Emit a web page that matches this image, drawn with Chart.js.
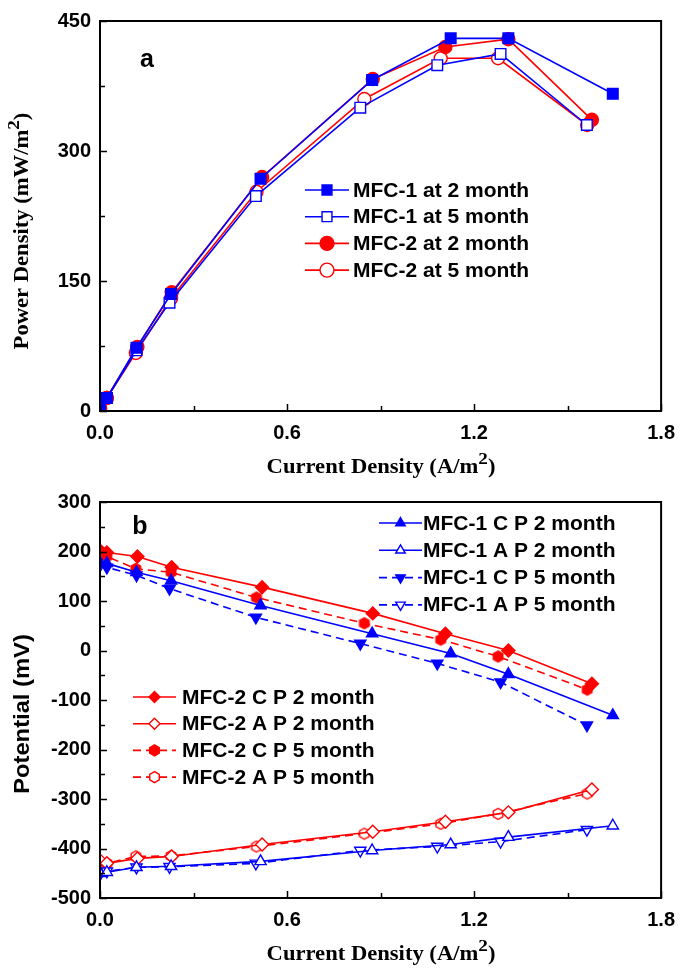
<!DOCTYPE html>
<html>
<head>
<meta charset="utf-8">
<script src="https://cdn.jsdelivr.net/npm/chart.js@4/dist/chart.umd.min.js"></script>
<style>
  body { margin: 0; background: #fff; width: 685px; height: 976px; overflow: hidden; }
  canvas { position: absolute; left: 0; }
  #top { top: 0; }
  #bot { top: 478px; }
</style>
</head>
<body>
<canvas id="top" width="685" height="478"></canvas>
<canvas id="bot" width="685" height="498"></canvas>
<script>
// current density (A/m2), one list per cell and ageing time
const cur1_2m = [0, 0.022, 0.117, 0.228, 0.515, 0.873, 1.125, 1.31, 1.645];
const cur1_5m = [0, 0.022, 0.117, 0.223, 0.5, 0.835, 1.082, 1.285, 1.562];
const cur2_2m = [0, 0.022, 0.12, 0.23, 0.52, 0.875, 1.108, 1.31, 1.578];
const cur2_5m = [0, 0.022, 0.115, 0.228, 0.502, 0.848, 1.093, 1.277, 1.563];

// panel a: power density (mW/m2)
const pd1_2m = [2, 15, 73, 135, 268, 382, 430, 430, 366];
const pd1_5m = [2, 15, 70, 125, 248, 350, 399, 412, 330];
const pd2_2m = [3, 15, 74, 137, 270, 383, 420, 429, 336];
const pd2_5m = [2, 15, 67, 130, 253, 360, 407, 407, 330];

// panel b: cathode (C P) and anode (A P) potential (mV)
const c1cp_2m = [178, 176, 158, 141, 91, 34, -6, -48, -131];
const c1ap_2m = [-450, -448, -438, -436, -426, -404, -392, -377, -354];
const c1cp_5m = [172, 168, 152, 125, 67, 14, -26, -64, -151];
const c1ap_5m = [-452, -446, -438, -437, -430, -404, -396, -386, -362];
const c2cp_2m = [202, 198, 190, 168, 128, 75, 34, 0, -67];
const c2ap_2m = [-424, -430, -420, -416, -392, -366, -346, -327, -281];
const c2cp_5m = [200, 190, 165, 158, 107, 55, 22, -12, -79];
const c2ap_5m = [-428, -430, -416, -415, -396, -370, -350, -330, -289];

const xTicks = { min: 0, max: 1.8, step: 0.3 };
const yTicksA = { min: 0, max: 450, step: 75 };
const yTicksB = { min: -500, max: 300, step: 50 };

const BLUE = "#0000ff";
const RED = "#ff0000";
const SANS = "'Liberation Sans', Arial, sans-serif";
const SERIF = "'Liberation Serif', 'Times New Roman', serif";
const TICKFONT = { family: SANS, weight: "bold", size: 20 };

function pts(xs, ys) {
  return xs.map((x, i) => ({ x: x, y: ys[i] }));
}

function hexPath(g, x, y, r) {
  g.beginPath();
  for (let k = 0; k < 6; k++) {
    const a = Math.PI / 2 + k * Math.PI / 3;
    g.lineTo(x + r * Math.cos(a), y - r * Math.sin(a));
  }
  g.closePath();
}

function hexImage(r, filled, color) {
  const c = document.createElement("canvas");
  c.width = c.height = Math.ceil(2 * r + 3);
  const g = c.getContext("2d");
  hexPath(g, c.width / 2, c.height / 2, r);
  g.fillStyle = filled ? color : "#fff";
  g.fill();
  g.lineWidth = 1.4;
  g.strokeStyle = color;
  g.stroke();
  return c;
}

const hexFilled = hexImage(5.5, true, RED);
const hexOpen = hexImage(5.5, false, RED);

function series(label, data, color, marker, filled, dashed, r) {
  const ds = {
    label, data,
    borderColor: color,
    borderWidth: 1.6,
    borderDash: dashed ? [8, 5] : [],
    pointBorderColor: color,
    pointBackgroundColor: filled ? color : "#fff",
    pointBorderWidth: 1.4,
    pointRadius: r,
    pointHoverRadius: r,
    pointRotation: 0,
    marker, filled,
    tension: 0
  };
  if (marker === "hex") ds.pointStyle = filled ? hexFilled : hexOpen;
  else if (marker === "triangleDown") { ds.pointStyle = "triangle"; ds.pointRotation = 180; }
  else ds.pointStyle = marker;
  return ds;
}

// marker for the hand drawn legends
function drawMarker(g, ds, x, y, r) {
  g.save();
  g.setLineDash([]);
  g.lineWidth = 1.4;
  g.strokeStyle = ds.borderColor;
  g.fillStyle = ds.filled ? ds.borderColor : "#fff";
  g.beginPath();
  if (ds.marker === "rect") {
    const s = Math.SQRT1_2 * r;
    g.rect(x - s, y - s, 2 * s, 2 * s);
  } else if (ds.marker === "circle") {
    g.arc(x, y, r, 0, Math.PI * 2);
  } else if (ds.marker === "triangle" || ds.marker === "triangleDown") {
    const d = ds.marker === "triangle" ? 1 : -1;
    g.moveTo(x, y - d * r);
    g.lineTo(x + r * 0.866, y + d * r * 0.5);
    g.lineTo(x - r * 0.866, y + d * r * 0.5);
    g.closePath();
  } else if (ds.marker === "rectRot") {
    g.moveTo(x, y - r); g.lineTo(x + r, y); g.lineTo(x, y + r); g.lineTo(x - r, y); g.closePath();
  } else if (ds.marker === "hex") {
    hexPath(g, x, y, r);
  }
  g.fill();
  g.stroke();
  g.restore();
}

// text made of [string, isSuperscript] parts, centred on (cx, cy), stretched a bit like the original
function drawTitle(g, parts, cx, cy, rotate, family, stretch, size) {
  const main = "bold " + size + "px " + family;
  const sup = "bold " + (size - 3) + "px " + family;
  g.save();
  g.textAlign = "left";
  g.textBaseline = "middle";
  g.fillStyle = "#000";
  let w = 0;
  parts.forEach(p => { g.font = p[1] ? sup : main; w += g.measureText(p[0]).width; });
  g.translate(cx, cy);
  if (rotate) g.rotate(-Math.PI / 2);
  g.scale(stretch, 1);
  let x = -w / 2;
  parts.forEach(p => {
    g.font = p[1] ? sup : main;
    g.fillText(p[0], x, p[1] ? -8 : 0);
    x += g.measureText(p[0]).width;
  });
  g.restore();
}

const framePlugin = {
  id: "frame",
  afterDraw(chart, args, o) {
    const g = chart.ctx;
    const a = chart.chartArea;
    g.save();
    // inward ticks
    g.strokeStyle = "#000";
    g.lineWidth = 1.5;
    const xs = chart.scales.x, ys = chart.scales.y;
    xs.ticks.forEach(t => {
      const px = Math.round(xs.getPixelForValue(t.value)) + 0.5;
      const len = t.label ? 7 : 5;
      g.beginPath(); g.moveTo(px, a.bottom); g.lineTo(px, a.bottom - len); g.stroke();
    });
    ys.ticks.forEach(t => {
      const py = Math.round(ys.getPixelForValue(t.value)) + 0.5;
      const len = t.label ? 7 : 5;
      g.beginPath(); g.moveTo(a.left, py); g.lineTo(a.left + len, py); g.stroke();
    });
    // frame
    g.lineWidth = 2;
    g.strokeRect(a.left, a.top, a.right - a.left, a.bottom - a.top);

    // legends
    o.legends.forEach(L => {
      L.items.forEach((idx, k) => {
        const ds = chart.data.datasets[idx];
        const y = L.y0 + k * L.dy;
        g.save();
        g.strokeStyle = ds.borderColor;
        g.lineWidth = ds.borderWidth;
        g.setLineDash(ds.borderDash);
        g.beginPath(); g.moveTo(L.x0, y); g.lineTo(L.x1, y); g.stroke();
        g.restore();
        drawMarker(g, ds, (L.x0 + L.x1) / 2, y, L.r);
        g.save();
        g.fillStyle = "#000";
        g.font = "bold 20px " + SANS;
        g.textBaseline = "middle";
        g.textAlign = "left";
        g.translate(L.tx, y + 1);
        g.scale(1.05, 1);
        g.fillText(ds.label, 0, 0);
        g.restore();
      });
    });

    // panel letter
    g.fillStyle = "#000";
    g.font = "bold 25px " + SANS;
    g.textAlign = "center";
    g.textBaseline = "middle";
    g.fillText(o.letter[0], o.letter[1], o.letter[2]);

    // axis titles
    drawTitle(g, o.xTitle, o.xPos[0], o.xPos[1], false, SERIF, 1.13, 20);
    drawTitle(g, o.yTitle, o.yPos[0], o.yPos[1], true, o.yFamily, o.yStretch, o.ySize);
    g.restore();
  }
};

function axes(yt, xHeight) {
  return {
    x: {
      type: "linear", min: xTicks.min, max: xTicks.max,
      grid: { display: false, drawTicks: false },
      border: { display: false },
      ticks: {
        stepSize: xTicks.step, autoSkip: false, maxRotation: 0, padding: 10,
        color: "#000", font: TICKFONT,
        callback: v => (Math.round(v / xTicks.step) % 2 === 0 ? v.toFixed(1) : "")
      },
      afterFit: s => { s.height = xHeight; }
    },
    y: {
      type: "linear", min: yt.min, max: yt.max,
      grid: { display: false, drawTicks: false },
      border: { display: false },
      ticks: {
        stepSize: yt.step, autoSkip: false, padding: 9,
        color: "#000", font: TICKFONT,
        callback: v => (Math.round(v / yt.step) % 2 === 0 ? String(v) : "")
      },
      afterFit: s => { s.width = 100; }
    }
  };
}

const curTitle = [["Current Density (A/m", 0], ["2", 1], [")", 0]];

new Chart(document.getElementById("top"), {
  type: "line",
  data: {
    datasets: [
      series("MFC-1 at 2 month", pts(cur1_2m, pd1_2m), BLUE, "rect", true, false, 7.5),
      series("MFC-1 at 5 month", pts(cur1_5m, pd1_5m), BLUE, "rect", false, false, 7.5),
      series("MFC-2 at 2 month", pts(cur2_2m, pd2_2m), RED, "circle", true, false, 6.5),
      series("MFC-2 at 5 month", pts(cur2_5m, pd2_5m), RED, "circle", false, false, 6.5)
    ]
  },
  options: {
    responsive: false, animation: false, devicePixelRatio: 1,
    layout: { padding: { top: 15, right: 20, left: 0, bottom: 0 } },
    scales: axes(yTicksA, 67),
    plugins: {
      legend: { display: false }, tooltip: { enabled: false },
      frame: {
        legends: [{ items: [0, 1, 2, 3], x0: 305, x1: 349, tx: 353, y0: 190, dy: 26.7, r: 7 }],
        letter: ["a", 147, 60],
        xTitle: curTitle, xPos: [381, 468],
        yTitle: [["Power Density (mW/m", 0], ["2", 1], [")", 0]], yPos: [23, 231],
        yFamily: SERIF, yStretch: 1.13, ySize: 20
      }
    }
  },
  plugins: [framePlugin]
});

new Chart(document.getElementById("bot"), {
  type: "line",
  data: {
    datasets: [
      series("MFC-1 C P 2 month", pts(cur1_2m, c1cp_2m), BLUE, "triangle", true, false, 6.5),
      series("MFC-1 A P 2 month", pts(cur1_2m, c1ap_2m), BLUE, "triangle", false, false, 6.5),
      series("MFC-1 C P 5 month", pts(cur1_5m, c1cp_5m), BLUE, "triangleDown", true, true, 6.5),
      series("MFC-1 A P 5 month", pts(cur1_5m, c1ap_5m), BLUE, "triangleDown", false, true, 6.5),
      series("MFC-2 C P 2 month", pts(cur2_2m, c2cp_2m), RED, "rectRot", true, false, 6.5),
      series("MFC-2 A P 2 month", pts(cur2_2m, c2ap_2m), RED, "rectRot", false, false, 6.5),
      series("MFC-2 C P 5 month", pts(cur2_5m, c2cp_5m), RED, "hex", true, true, 5.5),
      series("MFC-2 A P 5 month", pts(cur2_5m, c2ap_5m), RED, "hex", false, true, 5.5)
    ]
  },
  options: {
    responsive: false, animation: false, devicePixelRatio: 1,
    layout: { padding: { top: 24, right: 20, left: 0, bottom: 0 } },
    scales: axes(yTicksB, 78),
    plugins: {
      legend: { display: false }, tooltip: { enabled: false },
      frame: {
        legends: [
          { items: [0, 1, 2, 3], x0: 379, x1: 422, tx: 423, y0: 45, dy: 27.3, r: 5.5 },
          { items: [4, 5, 6, 7], x0: 133, x1: 176, tx: 182, y0: 219, dy: 26.7, r: 5.5 }
        ],
        letter: ["b", 140, 49],
        xTitle: curTitle, xPos: [381, 477],
        yTitle: [["Potential (mV)", 0]], yPos: [23, 236],
        yFamily: SANS, yStretch: 1.08, ySize: 22
      }
    }
  },
  plugins: [framePlugin]
});
</script>
</body>
</html>
